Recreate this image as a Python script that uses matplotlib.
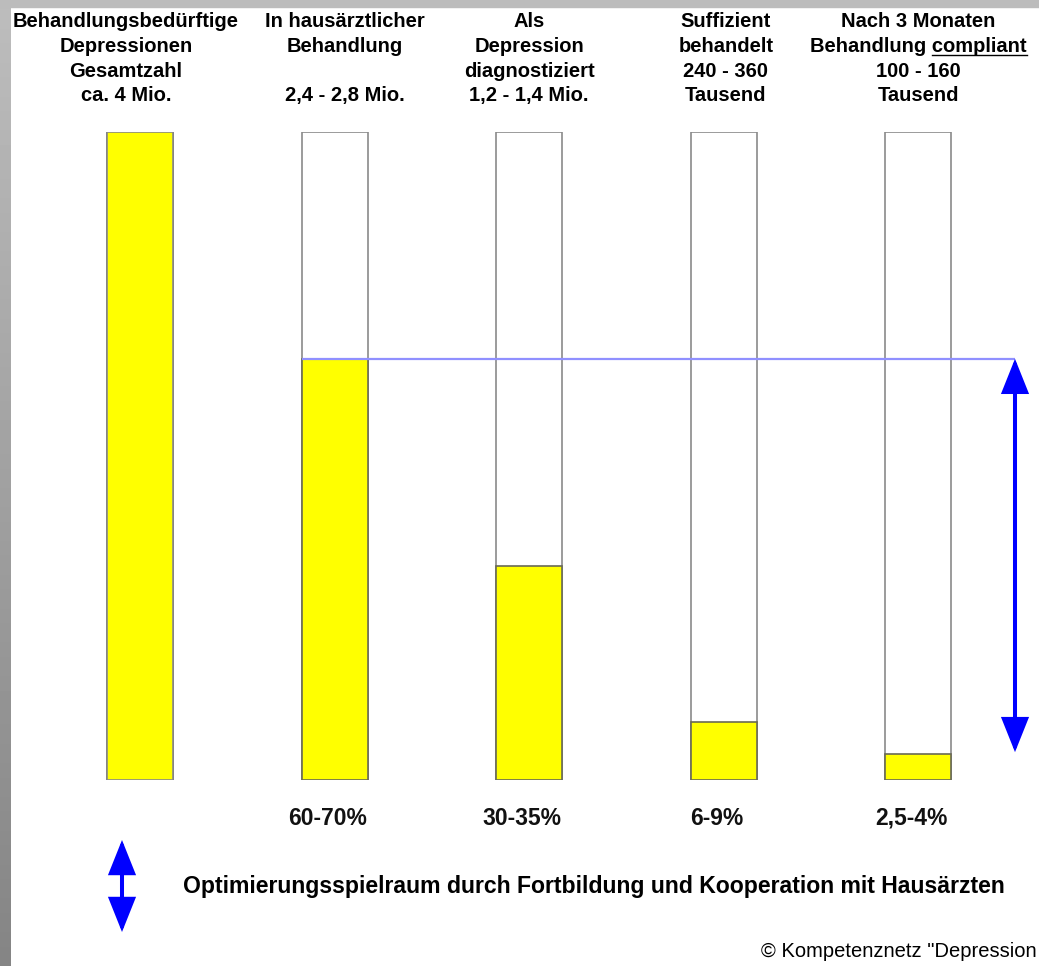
import matplotlib as mpl
mpl.use('Agg')
import matplotlib.pyplot as plt
import numpy as np

# Versorgungskette Depression: Anteil der Betroffenen je Stufe (in %)
stufen = ["gesamt", "hausarzt", "diagnose", "suffizient", "compliant"]
anteil = [100, 65, 33, 9, 4]
prozent_labels = ["", "60-70%", "30-35%", "6-9%", "2,5-4%"]
kopf = [
    ["Behandlungsbedürftige", "Depressionen", "Gesamtzahl", "ca. 4 Mio."],
    ["In hausärztlicher", "Behandlung", "", "2,4 - 2,8 Mio."],
    ["Als", "Depression", "diagnostiziert", "1,2 - 1,4 Mio."],
    ["Suffizient", "behandelt", "240 - 360", "Tausend"],
    ["Nach 3 Monaten", "Behandlung compliant", "100 - 160", "Tausend"],
]
spielraum_von = anteil[4]
spielraum_bis = anteil[1]

W, H = 1039, 966
fig = plt.figure(figsize=(W / 100, H / 100), dpi=100)
fig.patch.set_facecolor('white')

# Achse: y=0 bei Pixel 780, y=100 bei Pixel 132
ax = fig.add_axes([0, 1 - 780 / H, 1, 648 / H])
ax.set_ylim(0, 100)
x0, dx = 140, 194.6
ax.set_xlim(-x0 / dx, (W - x0) / dx)
ax.axis('off')

def py(p):
    # Pixelzeile -> Datenwert
    return (780 - p) / 6.48

def px(p):
    return (p - x0) / dx

x = np.arange(len(stufen))
bw = 66 / dx
ax.bar(x, [100] * len(x), width=bw, color='white', edgecolor='#8a8a8a', lw=1.2, zorder=1)
ax.bar(x, anteil, width=bw, color='#ffff00', edgecolor='#6a6a55', lw=1.2, zorder=2)
ax.bar(x[:1], anteil[:1], width=bw, color='#ffff00', edgecolor='#8a8a8a', lw=1.2, zorder=3)

# Hilfslinie und Doppelpfeil
ax.plot([x[1] - bw / 2, px(1015)], [spielraum_bis, spielraum_bis],
        color='#9090ff', lw=1.6, zorder=4, solid_capstyle='butt')
pfeil = dict(arrowstyle='<|-|>,head_length=1.0,head_width=0.4', mutation_scale=20,
             lw=2.9, color='#0000ff', shrinkA=0, shrinkB=0, joinstyle='miter')
ax.annotate('', xy=(px(1015), spielraum_von + 0.3), xytext=(px(1015), spielraum_bis),
            arrowprops=pfeil, annotation_clip=False, zorder=5)
ax.annotate('', xy=(px(122), py(932)), xytext=(px(122), py(840)),
            arrowprops=pfeil, annotation_clip=False, zorder=5)

# Kopfzeilen
fs_kopf = 14.5
versatz = [-14, 10, 0, 2, 0]
baselines = [27, 52, 77, 101.5]
for i, zeilen in enumerate(kopf):
    xc = px(x0 + dx * i + versatz[i])
    for j, z in enumerate(zeilen):
        if not z:
            continue
        t = ax.text(xc, py(baselines[j]), z, ha='center', va='baseline',
                    fontsize=fs_kopf, fontweight='bold', family='Liberation Sans',
                    clip_on=False)
        if 'compliant' in z:
            fig.canvas.draw()
            r = fig.canvas.get_renderer()
            bb = t.get_window_extent(r)
            tmp = ax.text(0, 0, 'compliant', fontsize=fs_kopf, fontweight='bold',
                          family='Liberation Sans')
            wb = tmp.get_window_extent(r).width
            tmp.remove()
            yl = (H - baselines[j] - 2.5) / H
            fig.add_artist(plt.Line2D([(bb.x1 - wb) / W, bb.x1 / W], [yl, yl],
                                      transform=fig.transFigure, color='black', lw=1.0))

# Prozentangaben
for i, lab in enumerate(prozent_labels):
    if lab:
        ax.text(x[i] - 0.035, py(825), lab, ha='center', va='baseline', fontsize=16.5,
                fontweight='bold', family='Liberation Sans', color='#111111', clip_on=False)

ax.text(px(183), py(893), 'Optimierungsspielraum durch Fortbildung und Kooperation mit Hausärzten',
        ha='left', va='baseline', fontsize=16.6, fontweight='bold', family='Liberation Sans',
        clip_on=False)
ax.text(px(1037), py(957), '© Kompetenznetz "Depression', ha='right',
        va='baseline', fontsize=14.5, family='Liberation Sans', clip_on=False)

# grauer Rahmen links und oben
rand = fig.add_axes([0, 0, 11 / W, 1])
grad = np.linspace(0.74, 0.52, 200).reshape(-1, 1)
rand.imshow(grad, aspect='auto', cmap='gray', vmin=0, vmax=1, extent=[0, 1, 0, 1])
rand.axis('off')
fig.add_artist(plt.Rectangle((0, 1 - 7 / H), 1, 7 / H, transform=fig.transFigure,
                             color='#bcbcbc', zorder=10))

fig.savefig('out.png', dpi=100)
